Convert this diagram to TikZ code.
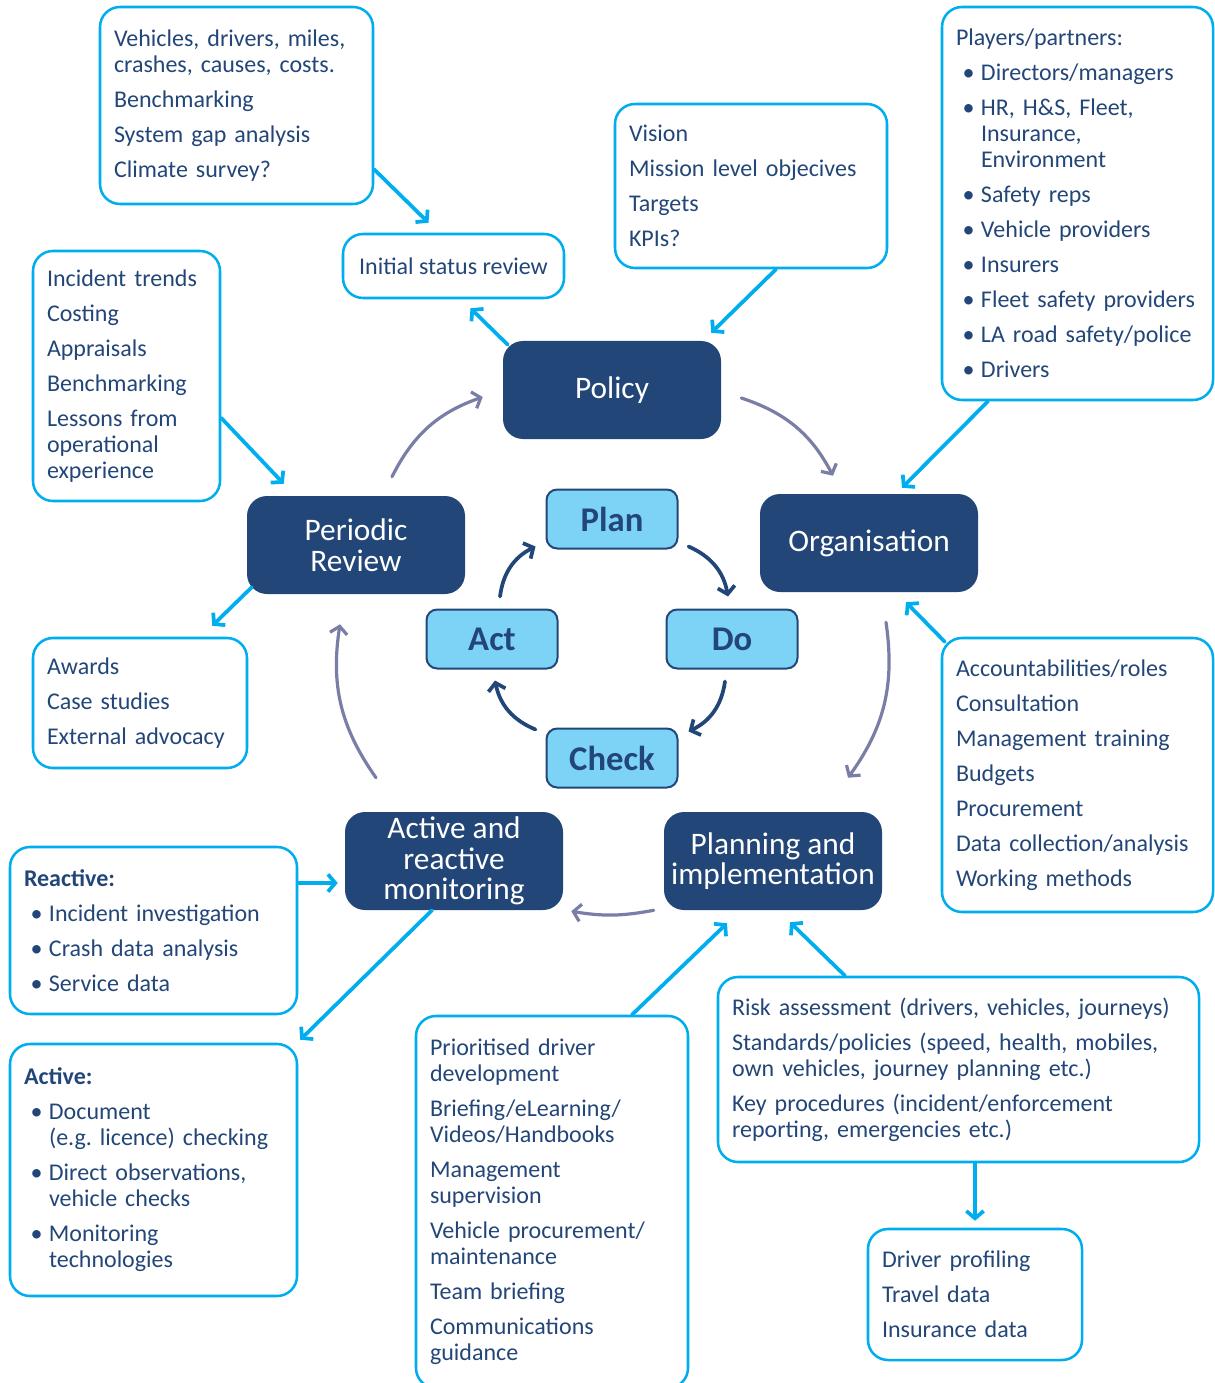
\documentclass[tikz,border=0pt]{standalone}
\usepackage{fontspec}
\setmainfont{Carlito}
\frenchspacing
\usetikzlibrary{arrows.meta,calc}
\definecolor{navy}{RGB}{35,70,120}
\definecolor{skyfill}{RGB}{125,211,245}
\definecolor{cyanline}{RGB}{0,174,239}
\definecolor{loopgrey}{RGB}{122,126,166}
\tikzstyle{note} = [draw=cyanline,line width=1.9pt,rounded corners=15pt,text=navy,align=left,inner xsep=10.5pt,font=\fontsize{18pt}{19.5pt}\selectfont]
\tikzstyle{stage} = [fill=navy,rounded corners=15pt,text=white,align=center,minimum width=163.5pt,minimum height=73.5pt,font=\fontsize{23.5pt}{23pt}\selectfont]
\tikzstyle{pdca} = [fill=skyfill,draw=navy,line width=1.5pt,rounded corners=8pt,text=navy,minimum width=98.25pt,minimum height=44.25pt,font=\bfseries\fontsize{26pt}{26pt}\selectfont]
\tikzstyle{feed} = [draw=cyanline,line width=2.8pt,line cap=round,-{Straight Barb[length=5.5pt,width=13pt]}]
\tikzstyle{loopline} = [draw=loopgrey,line width=2.4pt,line cap=round,-{Straight Barb[length=5.5pt,width=13pt]},bend left=22]
\tikzstyle{turn} = [draw=navy,line width=2.8pt,line cap=round,-{Straight Barb[length=5.5pt,width=13pt]},bend left=28]
\newcommand{\dotitem}{\hspace*{5pt}\makebox[13.75pt][l]{\textbullet}}
\newcommand{\dotcont}{\hspace*{18.75pt}}
\def\nl{\\[6.75pt]}

\begin{document}
\begin{tikzpicture}[x=0.75pt,y=-0.75pt]
  \useasboundingbox (0,0) rectangle (1214,1383);
  % main cycle
  \node[stage] (pol) at (612,390) {Policy};
  \node[stage] (org) at (869,543) {Organisation};
  \node[stage] (rev) at (356,545) {Periodic\\Review};
  \node[stage] (mon) at (454,861) {Active and\\reactive\\monitoring};
  \node[stage] (pim) at (773,861) {Planning and\\implementation};
  % plan do check act
  \node[pdca] (plan) at (612,519) {Plan};
  \node[pdca] (do) at (732,639) {Do};
  \node[pdca] (chk) at (612,758) {Check};
  \node[pdca] (actn) at (492,639) {Act};
  % notes
  \node[note,text width=183.75pt,minimum height=147.75pt] (stat) at (236.5,105.5)
    {Vehicles, drivers, miles,\\crashes, causes, costs.\nl Benchmarking\nl System gap analysis\nl Climate survey?};
  \node[note,align=center,minimum width=165.75pt,minimum height=48pt] (isr) at (453.5,266) {Initial status review};
  \node[note,text width=183pt,minimum height=123pt] (vis) at (751,186)
    {Vision\nl Mission level objecives\nl Targets\nl KPIs?};
  \node[note,text width=182.25pt,minimum height=294.75pt] (play) at (1077.5,203.5)
    {Players/partners:\nl
     \dotitem Directors/managers\nl
     \dotitem HR, H\&S, Fleet,\\\dotcont Insurance,\\\dotcont Environment\nl
     \dotitem Safety reps\nl
     \dotitem Vehicle providers\nl
     \dotitem Insurers\nl
     \dotitem Fleet safety providers\nl
     \dotitem LA road safety/police\nl
     \dotitem Drivers};
  \node[note,text width=119.25pt,minimum height=187.5pt] (inc) at (126.5,376)
    {Incident trends\nl Costing\nl Appraisals\nl Benchmarking\nl Lessons from\\operational\\experience};
  \node[note,text width=139.5pt,minimum height=97.5pt] (awd) at (140,703)
    {Awards\nl Case studies\nl External advocacy};
  \node[note,text width=182.25pt,minimum height=205.5pt] (acc) at (1077.5,775)
    {Accountabilities/roles\nl Consultation\nl Management training\nl Budgets\nl Procurement\nl Data collection/analysis\nl Working methods};
  \node[note,text width=194.25pt,minimum height=125.25pt] (rea) at (153.5,930.5)
    {\textbf{Reactive:}\nl
     \dotitem Incident investigation\nl
     \dotitem Crash data analysis\nl
     \dotitem Service data};
  \node[note,text width=194.25pt,minimum height=189pt] (actv) at (153.5,1170)
    {\textbf{Active:}\nl
     \dotitem Document\\\dotcont (e.g. licence) checking\nl
     \dotitem Direct observations,\\\dotcont vehicle checks\nl
     \dotitem Monitoring\\\dotcont technologies};
  \node[note,text width=183pt,minimum height=279pt] (pri) at (552,1202)
    {Prioritised driver\\development\nl Briefing/eLearning/\\Videos/Handbooks\nl Management\\supervision\nl
     Vehicle procurement/\\maintenance\nl Team briefing\nl Communications\\guidance};
  \node[note,text width=339.75pt,minimum height=138.75pt] (risk) at (958.5,1069.5)
    {Risk assessment (drivers, vehicles, journeys)\nl
     Standards/policies (speed, health, mobiles,\\own vehicles, journey planning etc.)\nl
     Key procedures (incident/enforcement\\reporting, emergencies etc.)};
  \node[note,text width=139.5pt,minimum height=98.25pt] (drv) at (975,1294.5)
    {Driver profiling\nl Travel data\nl Insurance data};
  % big loop
  \draw[loopline] ($(pol.east)+(20,8)$) to ($(org.north)+(-36,-18)$);
  \draw[loopline] ($(org.south)+(17,30)$) to ($(pim.north)+(75,-34)$);
  \draw[loopline,bend left=10] ($(pim.south west)+(-10,0)$) to ($(mon.south east)+(8,1)$);
  \draw[loopline] ($(mon.north)+(-78,-34)$) to ($(rev.south)+(-16,30)$);
  \draw[loopline] ($(rev.north)+(36,-19)$) to ($(pol.west)+(-20,7)$);
  % small loop
  \draw[turn] ($(plan.south east)+(10,-3)$) to ($(do.north)+(-4,-12)$);
  \draw[turn] ($(do.south)+(-7,12)$) to ($(chk.north east)+(10,4)$);
  \draw[turn] ($(chk.north west)+(-10,2)$) to ($(actn.south)+(3,11)$);
  \draw[turn] ($(actn.north)+(8,-12)$) to ($(plan.south west)+(-10,-3)$);
  % feeds
  \draw[feed] ($(stat.east)+(0,64)$) -- ($(isr.north)+(-25,-10)$);
  \draw[feed] ($(pol.north west)+(5,4)$) -- ($(isr.south)+(17,9)$);
  \draw[feed] ($(vis.south)+(25,0)$) -- ($(pol.north east)+(-10,-8)$);
  \draw[feed] ($(play.south)+(-89.5,0)$) -- ($(org.north)+(33,-6)$);
  \draw[feed] ($(acc.north west)+(4,5)$) -- ($(org.south)+(37,10)$);
  \draw[feed] ($(inc.east)+(0,42)$) -- ($(rev.north west)+(37,-12)$);
  \draw[feed] ($(rev.south west)+(5,-7)$) -- ($(awd.north east)+(-36,-11)$);
  \draw[feed] ($(rea.east)+(0,-47.5)$) -- ($(mon.west)+(-7,22)$);
  \draw[feed] ($(mon.south)+(-22,0)$) -- ($(actv.north east)+(2,-3)$);
  \draw[feed] ($(pri.north)+(80,0)$) -- ($(pim.south)+(-46,13)$);
  \draw[feed] ($(risk.north)+(-113.5,0)$) -- ($(pim.south)+(17,12)$);
  \draw[feed] ($(risk.south)+(16.5,0)$) -- ($(drv.north)+(0,-7)$);
\end{tikzpicture}
\end{document}
